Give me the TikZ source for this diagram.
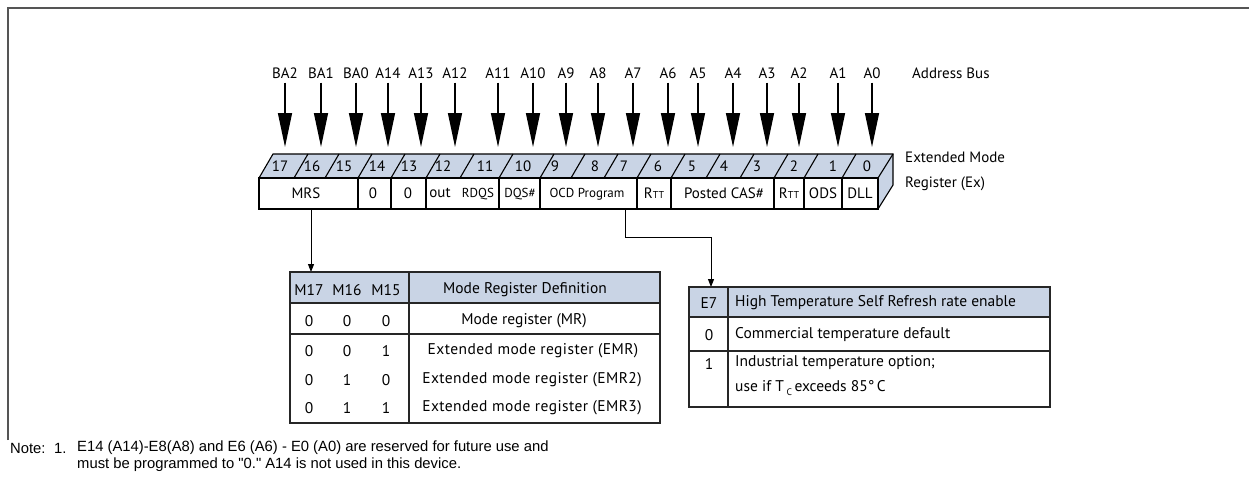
\documentclass[tikz,border=0pt]{standalone}
\usepackage{fontspec}
\setmainfont{PT Sans}
\newfontfamily\notefont{Liberation Sans}
\usetikzlibrary{arrows.meta}
\definecolor{regblue}{HTML}{C9D4E5}
\definecolor{framegray}{HTML}{555555}
\begin{document}
\begin{tikzpicture}[x=1pt,y=-1pt,
  lbl/.style={inner sep=0pt, font=\fontsize{15}{17}\selectfont},
  tab/.style={inner sep=0pt, font=\fontsize{15.5}{17}\selectfont},
  sml/.style={inner sep=0pt, font=\fontsize{13}{15}\selectfont},
  num/.style={inner sep=0pt, font=\fontsize{15}{17}\selectfont},
  notetxt/.style={inner sep=0pt, anchor=west, font=\notefont\fontsize{14.8}{16}\selectfont},
  busarrow/.style={line width=1.4pt, shorten <=4pt, -{Triangle[length=34pt,width=14pt]}},
  conn/.style={line width=1pt, -{Triangle[length=8pt,width=6pt]}},
  regline/.style={line width=1.1pt, draw=black},
  tline/.style={line width=1.2pt, draw=black!85}
]
\useasboundingbox (0,0) rectangle (1249,495);
% outer frame
\draw[line width=1.6pt, framegray] (8,440) -- (8,8) -- (1249,8);

% register body
\fill[regblue] (259,178) -- (273,154) -- (893,154) -- (878,178) -- cycle;
\fill[regblue] (878,178) -- (893,154) -- (893,185) -- (878,209) -- cycle;
\fill[white] (259,178) rectangle (878,209);
\draw[regline] (259,178) -- (273,154) -- (893,154) -- (893,185) -- (878,209);
\draw[regline] (259,178) rectangle (878,209);
\draw[regline] (878,178) -- (893,154);
\foreach \b in {294,325,358,391,426,460,499,540,571,604,637,671,706,740,774,804,842}
  \draw[regline] (\b,178) -- (\b+14,154);
\foreach \b in {358,391,426,499,540,637,671,774,804,842}
  \draw[regline] (\b,178) -- (\b,209);

% bit numbers
\foreach \n/\x in {17/280,16/312,15/344,14/377,13/409,12/443,11/485,10/523,9/555,8/595,7/624,6/658,5/692,4/724,3/757,2/794,1/833,0/867}
  \node[num] (bit\n) at (\x,166) {\n};

% register field labels
\node[lbl] (fMRS) at (306,193) {MRS};
\node[lbl] (fz14) at (373,193) {0};
\node[lbl] (fz13) at (408,193) {0};
\node[lbl] (fout) at (440,193) {out};
\node[sml] (fRDQS) at (478,194) {RDQS};
\node[sml] (fDQS) at (520,194) {DQS\#};
\node[sml] (fOCD) at (587,194) {OCD Program};
\node[lbl] (fRTTa) at (654,193) {R{\fontsize{10}{10}\selectfont TT}};
\node[lbl] (fCAS) at (724,193) {Posted CAS\#};
\node[lbl] (fRTTb) at (789,193) {R{\fontsize{10}{10}\selectfont TT}};
\node[lbl] (fODS) at (823,193) {ODS};
\node[lbl] (fDLL) at (860,193) {DLL};

% address bus labels and arrows
\foreach \name/\x/\t in {BA2/285/17,BA1/321/16,BA0/356/15,A14/388/14,A13/421/13,A12/455/12,A11/498/11,A10/533/10,A9/566/9,A8/598/8,A7/633/7,A6/668/6,A5/698/5,A4/733/4,A3/767/3,A2/799/2,A1/838/1,A0/872/0}{
  \node[lbl] (b\name) at (\x,73) {\name};
  \coordinate (tgt\t) at (\x,147);
  \draw[busarrow] (b\name) -- (tgt\t);
}
\node[lbl, anchor=west] (busname) at (912,73) {Address Bus};
\node[lbl, anchor=west] (regname1) at (905,157) {Extended Mode};
\node[lbl, anchor=west] (regname2) at (905,184) {Register (Ex)};

% connectors to tables
\coordinate (mrsout) at (311,209);
\coordinate (t1in) at (311,272);
\draw[conn] (mrsout) -- (t1in);
\coordinate (ocdout) at (625,209);
\coordinate (t2in) at (711,287);
\draw[conn] (ocdout) -- ++(0,28) -| (t2in);

% table 1
\fill[regblue] (290,272) rectangle (660,303);
\draw[tline] (290,272) rectangle (660,423);
\draw[tline] (290,303) -- (660,303);
\draw[tline] (290,334) -- (660,334);
\draw[tline] (409,272) -- (409,423);
\node[tab] (hM17) at (309,290) {M17};
\node[tab] (hM16) at (347,290) {M16};
\node[tab] (hM15) at (386,290) {M15};
\node[tab] (hMRD) at (525,290) {Mode Register Definition};
\foreach \r/\y/\a/\bb/\c in {1/321/0/0/0, 2/351/0/0/1, 3/380/0/1/0, 4/408/0/1/1}{
  \node[tab] (r\r a) at (309,\y) {\a};
  \node[tab] (r\r b) at (347,\y) {\bb};
  \node[tab] (r\r c) at (386,\y) {\c};
}
\node[tab] (r1d) at (524,321) {Mode register (MR)};
\node[tab] (r2d) at (533,351) {\addfontfeatures{LetterSpace=2.7}Extended mode register (EMR)};
\node[tab] (r3d) at (532,380) {\addfontfeatures{LetterSpace=2.7}Extended mode register (EMR2)};
\node[tab] (r4d) at (532,408) {\addfontfeatures{LetterSpace=2.7}Extended mode register (EMR3)};

% table 2
\fill[regblue] (689,287) rectangle (1050,317);
\draw[tline] (689,287) rectangle (1050,407);
\draw[tline] (689,317) -- (1050,317);
\draw[tline] (689,351) -- (1050,351);
\draw[tline] (728,287) -- (728,407);
\node[tab] (hE7) at (709,303) {E7};
\node[tab, anchor=west] (hHT) at (735,303) {High Temperature Self Refresh rate enable};
\node[tab] (e0) at (709,335) {0};
\node[tab, anchor=west] (e0t) at (735,335) {Commercial temperature default};
\node[tab] (e1) at (709,364) {1};
\node[tab, anchor=west] (e1t) at (735,363) {Industrial temperature option;};
\node[tab, anchor=west] (e1u) at (735,388) {use if T\,\raisebox{-4pt}{\fontsize{9.5}{9.5}\selectfont C}\,exceeds 85°\,C};

% note
\node[notetxt] (noteA) at (10,448) {Note:};
\node[notetxt] (noteN) at (54,448) {1.};
\node[notetxt] (noteL1) at (77,448) {E14 (A14)-E8(A8) and E6 (A6) - E0 (A0) are reserved for future use and};
\node[notetxt] (noteL2) at (77,465) {must be programmed to "0." A14 is not used in this device.};
\end{tikzpicture}
\end{document}
